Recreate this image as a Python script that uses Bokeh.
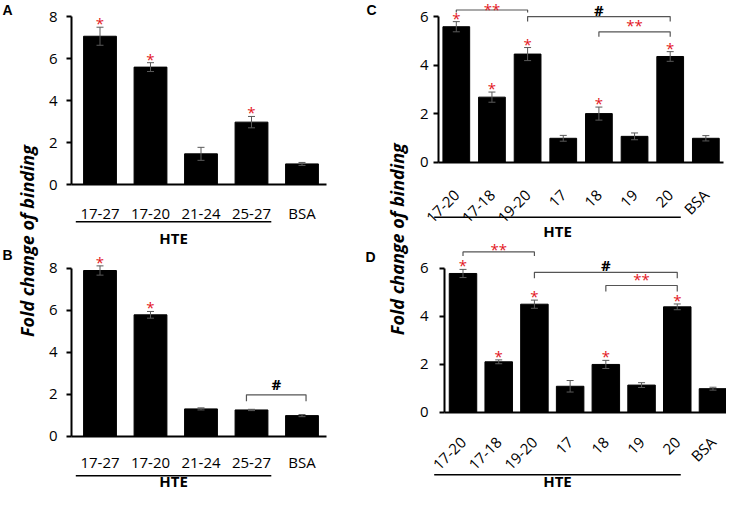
import math
from bokeh.plotting import figure
from bokeh.models import (Range1d, FixedTicker, Label, Whisker, TeeHead,
                          ColumnDataSource, LinearAxis)
from bokeh.layouts import row, column
from bokeh.embed import file_html
from bokeh.resources import INLINE
from bokeh.core.properties import value

# ---------------- data ----------------
cats_ab = ["17-27", "17-20", "21-24", "25-27", "BSA"]
hte_ab = ["17-27", "17-20", "21-24", "25-27"]
a_vals = [7.06, 5.59, 1.46, 2.97, 0.98]
a_errs = [0.43, 0.21, 0.31, 0.27, 0.07]
a_sig = ["17-27", "17-20", "25-27"]
a_pairs = []
b_vals = [7.89, 5.78, 1.30, 1.25, 0.98]
b_errs = [0.22, 0.16, 0.05, 0.03, 0.05]
b_sig = ["17-27", "17-20"]
b_pairs = [("25-27", "BSA", "#")]

cats_cd = ["17-20", "17-18", "19-20", "17", "18", "19", "20", "BSA"]
hte_cd = ["17-20", "17-18", "19-20", "17", "18", "19", "20"]
c_vals = [5.59, 2.68, 4.46, 0.98, 2.00, 1.06, 4.36, 0.98]
c_errs = [0.21, 0.21, 0.27, 0.12, 0.27, 0.14, 0.20, 0.11]
c_sig = ["17-20", "17-18", "19-20", "18", "20"]
c_pairs = [("17-20", "19-20", "**"), ("19-20", "20", "#"), ("18", "20", "**")]
d_vals = [5.78, 2.10, 4.50, 1.08, 1.99, 1.13, 4.39, 0.98]
d_errs = [0.17, 0.08, 0.17, 0.24, 0.17, 0.10, 0.12, 0.06]
d_sig = ["17-20", "17-18", "19-20", "18", "20"]
d_pairs = [("17-20", "19-20", "**"), ("19-20", "20", "#"), ("18", "20", "**")]

y_ticks_ab = [0, 2, 4, 6, 8]
y_ticks_cd = [0, 2, 4, 6]
y_label = "Fold change of binding"
group_label = "HTE"

# ---------------- styles / layout (pixels of the page) ----------------
FONT = "Open Sans"
RED = "#e3161d"
ERR = "#5a5a5a"
BRK = "#555555"
PAGE_H = 490

# bracket spec per panel: (line y, text anchor y, tick length px, pad left, pad right)
PANELS = {
    "A": dict(rect=(50, 8, 300, 248), x0=107.5, dx=50.5, y0=192.0, dy=21.0,
              axis_l=79, axis_r=334, bar_w=0.65, rot=0.0, lab_standoff=12,
              ytick_standoff=9, hte_l=-24.2, hte_r=19.8, hte_line=37.3, hte_text=53.0,
              brackets=[]),
    "B": dict(rect=(50, 256, 300, 242), x0=107.5, dx=50.5, y0=443.7, dy=21.0,
              axis_l=79, axis_r=334, bar_w=0.65, rot=0.0, lab_standoff=10,
              ytick_standoff=9, hte_l=-24.2, hte_r=19.8, hte_line=39.6, hte_text=45.0,
              brackets=[(1.97, 2.50, 6.5, -0.10, 0.08)]),
    "C": dict(rect=(420, 8, 314, 239), x0=463.8, dx=35.65, y0=169.5, dy=24.2,
              axis_l=446, axis_r=731, bar_w=0.75, rot=math.pi / 4, lab_standoff=24,
              ytick_standoff=5, hte_l=-22.1, hte_r=10.6, hte_line=55.2, hte_text=68.5,
              brackets=[(6.28, 6.32, 2.5, 0, 0), (6.01, 6.30, 5, 0, 0), (5.38, 5.65, 5, 0, 0)]),
    "D": dict(rect=(420, 247, 314, 251), x0=470.5, dx=35.71, y0=419.7, dy=24.0,
              axis_l=452, axis_r=738, bar_w=0.77, rot=math.pi / 4, lab_standoff=21,
              ytick_standoff=11, hte_l=-28.8, hte_r=3.5, hte_line=62.6, hte_text=69.0,
              brackets=[(6.68, 6.80, 4, 0, 0), (5.83, 6.15, 6, 0, 0), (5.28, 5.56, 6, 0, 0)]),
}


def make_panel(cfg, cats, vals, errs, sig, pairs, hte, yticks):
    L, T, W, H = cfg["rect"]
    x0, dx, y0, dy = cfg["x0"], cfg["dx"], cfg["y0"], cfg["dy"]
    xr = Range1d((L - x0) / dx, (L + W - x0) / dx)
    yr = Range1d((y0 - (T + H)) / dy, (y0 - T) / dy)
    p = figure(width=W, height=H, x_range=xr, y_range=yr, x_axis_type=None,
               y_axis_type=None, min_border=0, output_backend="svg",
               toolbar_location=None, outline_line_color=None)
    n = len(cats)
    idx = list(range(n))
    ax_l = (cfg["axis_l"] - x0) / dx
    ax_r = (cfg["axis_r"] - x0) / dx

    src = ColumnDataSource(dict(x=idx, top=vals,
                                upper=[v + e for v, e in zip(vals, errs)],
                                lower=[v - e for v, e in zip(vals, errs)]))
    p.vbar(x="x", top="top", bottom=0, width=cfg["bar_w"], source=src,
           fill_color="black", line_color="black")
    w = Whisker(source=src, base="x", upper="upper", lower="lower",
                line_color=ERR, line_width=1,
                upper_head=TeeHead(size=7, line_color=ERR, line_width=1),
                lower_head=TeeHead(size=7, line_color=ERR, line_width=1),
                level="overlay")
    p.add_layout(w)

    # significance stars
    sx = [cats.index(c) for c in sig]
    sy = [vals[i] + errs[i] + 4.0 / dy for i in sx]
    p.text(x=sx, y=sy, text=["*"] * len(sx), text_color=RED,
           text_font=value(FONT), text_font_size="15px",
           text_align="center", text_baseline="middle")

    # comparison brackets
    for (a, b, lab), (ly, ty, tick, pl, pr) in zip(pairs, cfg["brackets"]):
        i, j = cats.index(a) + pl, cats.index(b) + pr
        yb = ly - tick / dy
        p.line(x=[i, i, j, j], y=[yb, ly, ly, yb], line_color=BRK, line_width=1.2)
        col = RED if "*" in lab else "black"
        p.text(x=[(i + j) / 2], y=[ty], text=[lab], text_color=col,
               text_font=value(FONT), text_font_size="15px",
               text_font_style="bold" if lab == "#" else "normal",
               text_align="center", text_baseline="middle")

    # group underline + label
    hi = [cats.index(c) for c in hte]
    lx0 = hi[0] + cfg["hte_l"] / dx
    lx1 = hi[-1] + cfg["hte_r"] / dx
    ly = -cfg["hte_line"] / dy
    p.segment(x0=[lx0], y0=[ly], x1=[lx1], y1=[ly], line_color="black", line_width=1.5)
    p.text(x=[(lx0 + lx1) / 2], y=[-cfg["hte_text"] / dy], text=[group_label],
           text_font=value(FONT), text_font_size="15px", text_font_style="bold",
           text_color="black", text_align="center", text_baseline="middle")

    # axes
    xa = LinearAxis(ticker=FixedTicker(ticks=idx),
                    major_label_overrides={i: c for i, c in enumerate(cats)},
                    fixed_location=0, bounds=(ax_l, ax_r),
                    axis_line_width=2, axis_line_color="black",
                    major_tick_line_color=None, minor_tick_line_color=None,
                    major_label_text_font=FONT, major_label_text_font_size="15px",
                    major_label_text_color="black",
                    major_label_standoff=cfg["lab_standoff"],
                    major_label_orientation=cfg["rot"] if cfg["rot"] else "horizontal")
    p.add_layout(xa, "below")
    ya = LinearAxis(ticker=FixedTicker(ticks=yticks), fixed_location=ax_l,
                    bounds=(0, yticks[-1]), axis_line_width=2, axis_line_color="black",
                    major_tick_in=0, major_tick_out=5, major_tick_line_width=2,
                    minor_tick_line_color=None,
                    major_label_text_font=FONT, major_label_text_font_size="15px",
                    major_label_text_color="black",
                    major_label_standoff=cfg["ytick_standoff"])
    p.add_layout(ya, "left")
    return p


def text_fig(left, right, items):
    w = right - left
    p = figure(width=w, height=PAGE_H, x_range=Range1d(0, w), y_range=Range1d(PAGE_H, 0),
               x_axis_type=None, y_axis_type=None, min_border=0, output_backend="svg",
               toolbar_location=None, outline_line_color=None)
    for txt, ax, ay, size, style, angle, font in items:
        p.add_layout(Label(x=ax - left, y=ay - 8, text=txt, text_font=font,
                           text_font_size=size, text_font_style=style, angle=angle,
                           text_align="center", text_baseline="middle",
                           text_color="black"))
    return p


pA = make_panel(PANELS["A"], cats_ab, a_vals, a_errs, a_sig, a_pairs, hte_ab, y_ticks_ab)
pB = make_panel(PANELS["B"], cats_ab, b_vals, b_errs, b_sig, b_pairs, hte_ab, y_ticks_ab)
pC = make_panel(PANELS["C"], cats_cd, c_vals, c_errs, c_sig, c_pairs, hte_cd, y_ticks_cd)
pD = make_panel(PANELS["D"], cats_cd, d_vals, d_errs, d_sig, d_pairs, hte_cd, y_ticks_cd)

LET = "Liberation Sans"
left_txt = text_fig(8, 50, [
    ("A", 15, 17, "14px", "bold", 0, LET),
    ("B", 15, 262, "14px", "bold", 0, LET),
    (y_label, 34.5, 248.5, "18px", "bold italic", math.pi / 2, FONT),
])
mid_txt = text_fig(350, 420, [
    ("C", 379, 17, "14px", "bold", 0, LET),
    ("D", 378, 264, "14px", "bold", 0, LET),
    (y_label, 404.5, 246.7, "18px", "bold italic", math.pi / 2, FONT),
])

layout = row(left_txt, column(pA, pB), mid_txt, column(pC, pD))
open("out.html", "w").write(file_html(layout, INLINE))
